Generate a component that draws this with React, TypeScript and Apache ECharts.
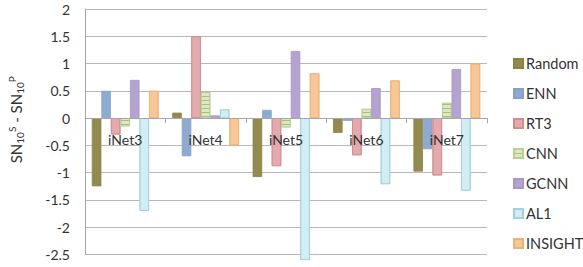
import React, { useEffect, useRef } from "react";
import * as echarts from "echarts";

const categories = ["iNet3", "iNet4", "iNet5", "iNet6", "iNet7"];
const seriesNames = ["Random", "ENN", "RT3", "CNN", "GCNN", "AL1", "INSIGHT"];
const randomVals = [-1.25, 0.1, -1.08, -0.27, -0.98];
const ennVals = [0.5, -0.7, 0.15, -0.05, -0.57];
const rt3Vals = [-0.3, 1.5, -0.88, -0.68, -1.05];
const cnnVals = [-0.15, 0.48, -0.17, 0.17, 0.28];
const gcnnVals = [0.7, 0.05, 1.23, 0.55, 0.9];
const al1Vals = [-1.7, 0.16, -2.6, -1.21, -1.33];
const insightVals = [0.5, -0.5, 0.82, 0.69, 1.0];
const allVals = [randomVals, ennVals, rt3Vals, cnnVals, gcnnVals, al1Vals, insightVals];
const yMin = -2.5;
const yMax = 2;
const yStep = 0.5;

const colors = ["#938a4f", "#8eaacf", "#e3abae", "#dbe8c2", "#b4a2cf", "#d3eef3", "#f7c796"];
const borders = ["#8a8048", "#86a2c8", "#d08c92", "#b9cf95", "#a896c4", "#9fd2dc", "#eab27a"];
const decals: any[] = [
  null,
  null,
  { symbol: "circle", symbolSize: 0.5, dashArrayX: [2, 0], dashArrayY: [2, 0], color: "rgba(170,60,70,0.4)" },
  { symbol: "rect", symbolSize: 1, dashArrayX: [[1, 0]], dashArrayY: [1, 3], color: "rgba(120,150,70,0.5)" },
  null,
  { symbol: "circle", symbolSize: 0.5, dashArrayX: [2, 0], dashArrayY: [2, 0], color: "rgba(60,150,170,0.3)" },
  { symbol: "circle", symbolSize: 0.5, dashArrayX: [2, 0], dashArrayY: [2, 0], color: "rgba(200,120,40,0.35)" },
];

const FONT = "Lato";
const GRID_TOP = 9;
const GRID_BOTTOM = 12.5;
const H = 267;

export default function App() {
  const ref = useRef<HTMLDivElement>(null);
  useEffect(() => {
    if (!ref.current) return;
    const chart = echarts.init(ref.current, undefined, { renderer: "svg" });
    const plotH = H - GRID_TOP - GRID_BOTTOM;
    const zeroOffset = -((0 - yMin) / (yMax - yMin)) * plotH;
    chart.setOption({
      animation: false,
      backgroundColor: "#ffffff",
      textStyle: { fontFamily: FONT },
      grid: { left: 85, right: 96, top: GRID_TOP, bottom: GRID_BOTTOM, containLabel: false, outerBoundsMode: "none" },
      legend: {
        orient: "vertical",
        left: 508,
        top: 51,
        itemWidth: 9,
        itemHeight: 9,
        itemGap: 15,
        icon: "rect",
        data: seriesNames,
        textStyle: { fontFamily: FONT, fontSize: 14.5, color: "#333", lineHeight: 14, padding: [0, 0, 0, -2] },
      },
      xAxis: {
        type: "category",
        data: categories,
        position: "bottom",
        offset: zeroOffset,
        z: 10,
        axisLine: { onZero: false, lineStyle: { color: "#a6a6a6", width: 1 } },
        axisTick: { show: true, length: 5, inside: false, lineStyle: { color: "#a6a6a6" } },
        axisLabel: { fontFamily: FONT, fontSize: 14, color: "#333", margin: 14 },
      },
      yAxis: {
        type: "value",
        min: yMin,
        max: yMax,
        interval: yStep,
        axisLine: { show: true, lineStyle: { color: "#a6a6a6" } },
        axisTick: { show: false },
        splitLine: { lineStyle: { color: "#b8b8b8", width: 1 } },
        axisLabel: { fontFamily: FONT, fontSize: 14, color: "#333", margin: 15 },
        name: "SN{sub|10}{sup|S} - SN{sub|10}{sup|P}",
        nameLocation: "middle",
        nameRotate: 90,
        nameGap: 60,
        nameTextStyle: {
          fontFamily: FONT,
          fontSize: 15,
          color: "#333",
          lineHeight: 18,
          padding: [0, 0, 0, 24],
          rich: {
            sub: { fontFamily: FONT, fontSize: 10, color: "#333", verticalAlign: "bottom", lineHeight: 10, padding: [6, 0, 0, 0] },
            sup: { fontFamily: FONT, fontSize: 10, color: "#333", verticalAlign: "top", lineHeight: 10, padding: [0, 0, 6, 0] },
          },
        },
      },
      series: seriesNames.map((name, i) => ({
        name,
        type: "bar",
        data: allVals[i],
        barGap: "0%",
        barCategoryGap: "17%",
        clip: false,
        itemStyle: decals[i]
          ? { color: colors[i], borderColor: borders[i], borderWidth: 0.8, decal: decals[i] }
          : { color: colors[i], borderColor: borders[i], borderWidth: 0.8 },
      })),
    });
    return () => chart.dispose();
  }, []);
  return <div ref={ref} style={{ width: 583, height: 267, position: "absolute", left: 0, top: 0 }} />;
}
